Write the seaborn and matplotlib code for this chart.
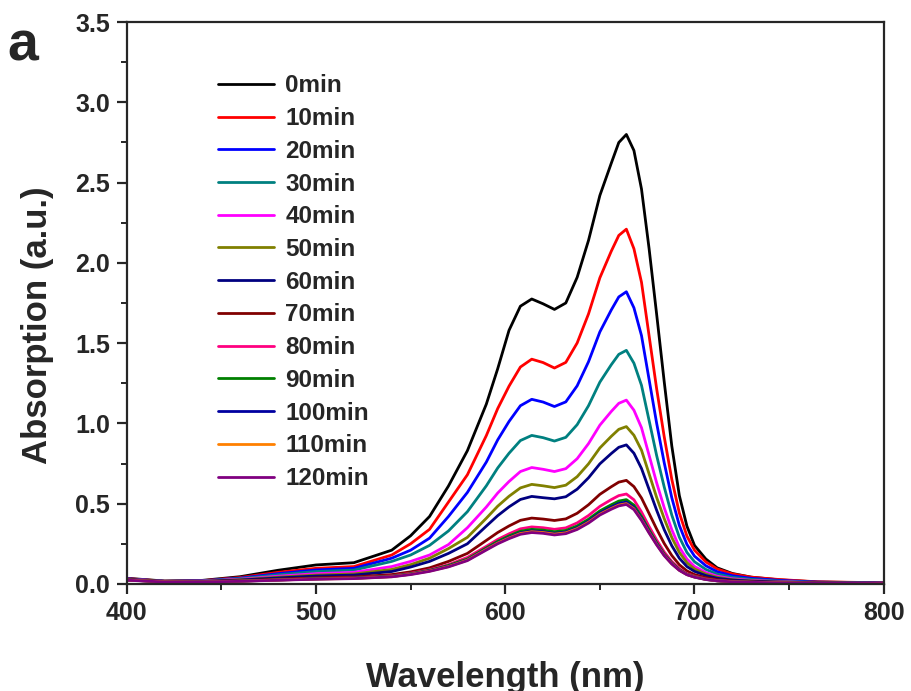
import numpy as np
import pandas as pd
import matplotlib
matplotlib.use("Agg")
import matplotlib.pyplot as plt
import seaborn as sns
from matplotlib.ticker import MultipleLocator

wavelength = [400, 420, 440, 460, 480, 500, 520, 540, 550, 560, 570, 580, 590, 596, 602, 608,
              614, 620, 626, 632, 638, 644, 650, 656, 660, 664, 668, 672, 676, 680, 684, 688,
              692, 696, 700, 706, 712, 720, 730, 745, 765, 800]

labels = ["0min", "10min", "20min", "30min", "40min", "50min", "60min", "70min",
          "80min", "90min", "100min", "110min", "120min"]

colors = ["#000000", "#FF0000", "#0000FF", "#008080", "#FF00FF", "#808000", "#000080",
          "#800000", "#FF0080", "#008000", "#0000A0", "#FF8000", "#800080"]

a_0 = [0.035, 0.018, 0.022, 0.045, 0.085, 0.118, 0.132, 0.21, 0.30, 0.42, 0.61, 0.83, 1.12, 1.34,
       1.58, 1.73, 1.775, 1.745, 1.71, 1.75, 1.91, 2.14, 2.42, 2.62, 2.75, 2.80, 2.70, 2.46, 2.09,
       1.68, 1.26, 0.86, 0.55, 0.36, 0.24, 0.155, 0.10, 0.065, 0.042, 0.025, 0.012, 0.006]
a_10 = [0.033, 0.017, 0.020, 0.040, 0.072, 0.097, 0.108, 0.18, 0.25, 0.34, 0.51, 0.68, 0.924, 1.092,
        1.232, 1.351, 1.40, 1.379, 1.345, 1.38, 1.501, 1.682, 1.907, 2.072, 2.171, 2.21, 2.088, 1.879,
        1.547, 1.216, 0.917, 0.652, 0.442, 0.298, 0.21, 0.137, 0.093, 0.062, 0.042, 0.027, 0.013, 0.007]
a_20 = [0.032, 0.016, 0.019, 0.036, 0.064, 0.087, 0.097, 0.16, 0.21, 0.285, 0.42, 0.57, 0.759, 0.897,
        1.012, 1.11, 1.15, 1.133, 1.105, 1.134, 1.234, 1.384, 1.57, 1.706, 1.788, 1.82, 1.72, 1.547,
        1.274, 1.001, 0.755, 0.537, 0.364, 0.246, 0.173, 0.113, 0.076, 0.051, 0.035, 0.022, 0.011, 0.005]
a_30 = [0.030, 0.016, 0.018, 0.033, 0.057, 0.077, 0.086, 0.14, 0.18, 0.24, 0.33, 0.45, 0.611, 0.722,
        0.814, 0.893, 0.925, 0.911, 0.89, 0.913, 0.992, 1.11, 1.257, 1.365, 1.43, 1.455, 1.375, 1.237,
        1.019, 0.80, 0.604, 0.429, 0.291, 0.196, 0.138, 0.09, 0.061, 0.041, 0.028, 0.017, 0.009, 0.004]
a_40 = [0.030, 0.015, 0.017, 0.029, 0.048, 0.064, 0.072, 0.108, 0.14, 0.18, 0.245, 0.35, 0.479, 0.566,
        0.638, 0.70, 0.725, 0.714, 0.70, 0.718, 0.78, 0.874, 0.989, 1.074, 1.125, 1.145, 1.082, 0.973,
        0.802, 0.63, 0.475, 0.338, 0.229, 0.155, 0.109, 0.071, 0.048, 0.032, 0.022, 0.014, 0.007, 0.003]
a_50 = [0.028, 0.015, 0.016, 0.026, 0.042, 0.055, 0.062, 0.09, 0.12, 0.16, 0.22, 0.29, 0.409, 0.484,
        0.546, 0.598, 0.62, 0.611, 0.60, 0.615, 0.668, 0.748, 0.847, 0.919, 0.963, 0.98, 0.926, 0.833,
        0.686, 0.539, 0.407, 0.289, 0.196, 0.132, 0.093, 0.061, 0.041, 0.027, 0.019, 0.012, 0.006, 0.003]
a_60 = [0.028, 0.015, 0.015, 0.024, 0.037, 0.049, 0.055, 0.077, 0.105, 0.14, 0.19, 0.25, 0.36, 0.425,
        0.48, 0.526, 0.545, 0.537, 0.53, 0.543, 0.59, 0.661, 0.748, 0.812, 0.851, 0.866, 0.814, 0.719,
        0.589, 0.459, 0.338, 0.238, 0.16, 0.108, 0.078, 0.052, 0.035, 0.024, 0.017, 0.011, 0.006, 0.003]
a_70 = [0.026, 0.014, 0.014, 0.020, 0.029, 0.038, 0.043, 0.058, 0.075, 0.10, 0.14, 0.19, 0.271, 0.32,
        0.361, 0.396, 0.41, 0.404, 0.395, 0.405, 0.44, 0.493, 0.558, 0.605, 0.634, 0.645, 0.606, 0.535,
        0.439, 0.342, 0.252, 0.177, 0.119, 0.081, 0.058, 0.039, 0.026, 0.018, 0.013, 0.008, 0.005, 0.003]
a_80 = [0.025, 0.013, 0.013, 0.018, 0.025, 0.033, 0.037, 0.05, 0.066, 0.088, 0.12, 0.165, 0.234, 0.277,
        0.312, 0.343, 0.355, 0.35, 0.34, 0.349, 0.38, 0.426, 0.483, 0.525, 0.55, 0.56, 0.524, 0.448,
        0.358, 0.274, 0.199, 0.14, 0.095, 0.064, 0.048, 0.031, 0.021, 0.015, 0.011, 0.007, 0.004, 0.003]
a_90 = [0.025, 0.013, 0.013, 0.018, 0.025, 0.032, 0.036, 0.048, 0.063, 0.084, 0.115, 0.155, 0.224, 0.265,
        0.299, 0.328, 0.34, 0.335, 0.325, 0.333, 0.361, 0.403, 0.455, 0.493, 0.516, 0.525, 0.491, 0.42,
        0.336, 0.257, 0.186, 0.131, 0.089, 0.06, 0.045, 0.029, 0.02, 0.014, 0.011, 0.007, 0.004, 0.003]
a_100 = [0.024, 0.013, 0.013, 0.017, 0.024, 0.031, 0.035, 0.046, 0.061, 0.082, 0.11, 0.15, 0.218, 0.257,
         0.29, 0.318, 0.33, 0.325, 0.315, 0.323, 0.35, 0.391, 0.442, 0.479, 0.501, 0.51, 0.477, 0.408,
         0.326, 0.25, 0.181, 0.128, 0.087, 0.059, 0.043, 0.028, 0.019, 0.014, 0.01, 0.007, 0.004, 0.003]
a_110 = [0.024, 0.013, 0.012, 0.017, 0.024, 0.030, 0.034, 0.045, 0.06, 0.08, 0.108, 0.148, 0.215, 0.254,
         0.286, 0.314, 0.325, 0.32, 0.31, 0.318, 0.344, 0.384, 0.434, 0.47, 0.491, 0.50, 0.468, 0.40,
         0.32, 0.245, 0.178, 0.125, 0.085, 0.058, 0.043, 0.028, 0.019, 0.014, 0.01, 0.007, 0.004, 0.003]
a_120 = [0.023, 0.012, 0.012, 0.016, 0.023, 0.029, 0.033, 0.044, 0.058, 0.078, 0.106, 0.145, 0.211, 0.25,
         0.282, 0.309, 0.32, 0.315, 0.305, 0.313, 0.339, 0.379, 0.429, 0.465, 0.486, 0.495, 0.463, 0.396,
         0.317, 0.243, 0.176, 0.124, 0.084, 0.057, 0.042, 0.027, 0.019, 0.013, 0.01, 0.006, 0.004, 0.002]

series = [a_0, a_10, a_20, a_30, a_40, a_50, a_60, a_70, a_80, a_90, a_100, a_110, a_120]

frames = [pd.DataFrame({"Wavelength": wavelength, "Absorption": s, "Time": lab})
          for lab, s in zip(labels, series)]
df = pd.concat(frames, ignore_index=True)

sns.set_style("ticks")
plt.rcParams["font.family"] = ["Liberation Sans", "DejaVu Sans"]
plt.rcParams["font.weight"] = "bold"

fig = plt.figure(figsize=(9.12, 6.91), dpi=100)
ax = fig.add_axes([0.139, 0.155, 0.830, 0.813])

sns.lineplot(data=df, x="Wavelength", y="Absorption", hue="Time", hue_order=labels,
             palette=dict(zip(labels, colors)), linewidth=2.0, sort=False, ax=ax,
             estimator=None)

ax.set_xlim(400, 800)
ax.set_ylim(0, 3.5)
ax.xaxis.set_major_locator(MultipleLocator(100))
ax.xaxis.set_minor_locator(MultipleLocator(50))
ax.yaxis.set_major_locator(MultipleLocator(0.5))
ax.yaxis.set_minor_locator(MultipleLocator(0.25))
ax.yaxis.set_major_formatter(matplotlib.ticker.FormatStrFormatter("%.1f"))

for sp in ax.spines.values():
    sp.set_linewidth(1.6)
    sp.set_visible(True)
ax.tick_params(which="major", direction="out", length=7, width=1.6, labelsize=18, pad=5)
ax.tick_params(which="minor", direction="out", length=4, width=1.4)
ax.tick_params(top=False, right=False, which="both")
for t in ax.get_xticklabels() + ax.get_yticklabels():
    t.set_fontweight("bold")

ax.set_xlabel("Wavelength (nm)", fontsize=25, fontweight="bold")
ax.set_ylabel("Absorption (a.u.)", fontsize=25, fontweight="bold")
ax.xaxis.set_label_coords(0.5, -0.138)
ax.yaxis.set_label_coords(-0.096, 0.46)

leg = ax.legend(loc="upper left", bbox_to_anchor=(0.120, 0.907), frameon=False,
                fontsize=17.5, handlelength=2.3, handletextpad=0.48, labelspacing=0.40,
                borderpad=0, borderaxespad=0)
for t in leg.get_texts():
    t.set_fontweight("bold")
for l in leg.get_lines():
    l.set_linewidth(2.0)

fig.text(0.008, 0.912, "a", fontsize=40, fontweight="bold")

fig.savefig("out.png", dpi=100, facecolor="white")
